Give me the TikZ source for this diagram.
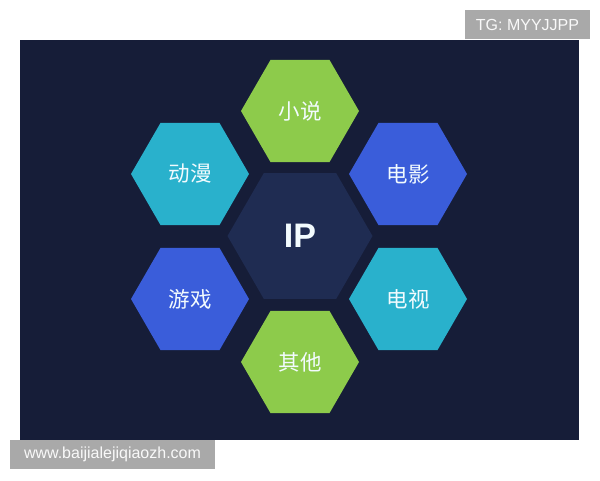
\documentclass[tikz,border=0pt]{standalone}
\usepackage{fontspec}
\setmainfont{Liberation Sans}
\newfontfamily\cjk{Noto Sans CJK SC}
\usetikzlibrary{shapes.geometric}
\definecolor{navy}{HTML}{161D38}
\definecolor{ipfill}{HTML}{1F2C52}
\definecolor{hexgreen}{HTML}{8DCB4B}
\definecolor{hexcyan}{HTML}{29B1CC}
\definecolor{hexblue}{HTML}{3A5DDA}
\definecolor{markgray}{HTML}{A9A9A9}
\tikzset{
  hexa/.style={regular polygon, regular polygon sides=6, inner sep=0pt,
    minimum size=118pt, text=white!95!cyan, font=\cjk\fontsize{21.5}{21.5}\selectfont},
  stampbox/.style={fill=markgray, text=white!95!gray, inner sep=0pt, font=\fontsize{16}{16}\selectfont}
}
\begin{document}
\begin{tikzpicture}[x=1pt,y=1pt]
		\useasboundingbox (0,0) rectangle (600,480);
		\fill[navy] (20,40) rectangle (579,440);
		% centre
		\node (ip) at (300,244) [hexa, minimum size=145pt, fill=ipfill, font=\bfseries\fontsize{34}{34}\selectfont] {IP};
		% ring
		\node (novel) at (300,369) [hexa, fill=hexgreen] {小说};
		\node (anime) at (190,306) [hexa, fill=hexcyan] {动漫};
		\node (film) at (408,306) [hexa, fill=hexblue] {电影};
		\node (game) at (190,181) [hexa, fill=hexblue] {游戏};
		\node (tv) at (408,181) [hexa, fill=hexcyan] {电视};
		\node (other) at (300,118) [hexa, fill=hexgreen] {其他};
		% watermarks
		\node (tg) at (527.5,455) [stampbox, minimum width=125pt, minimum height=29pt] {TG: MYYJJPP};
		\node (url) at (112.5,25.5) [stampbox, minimum width=205pt, minimum height=29pt] {www.baijialejiqiaozh.com};
\end{tikzpicture}
\end{document}
